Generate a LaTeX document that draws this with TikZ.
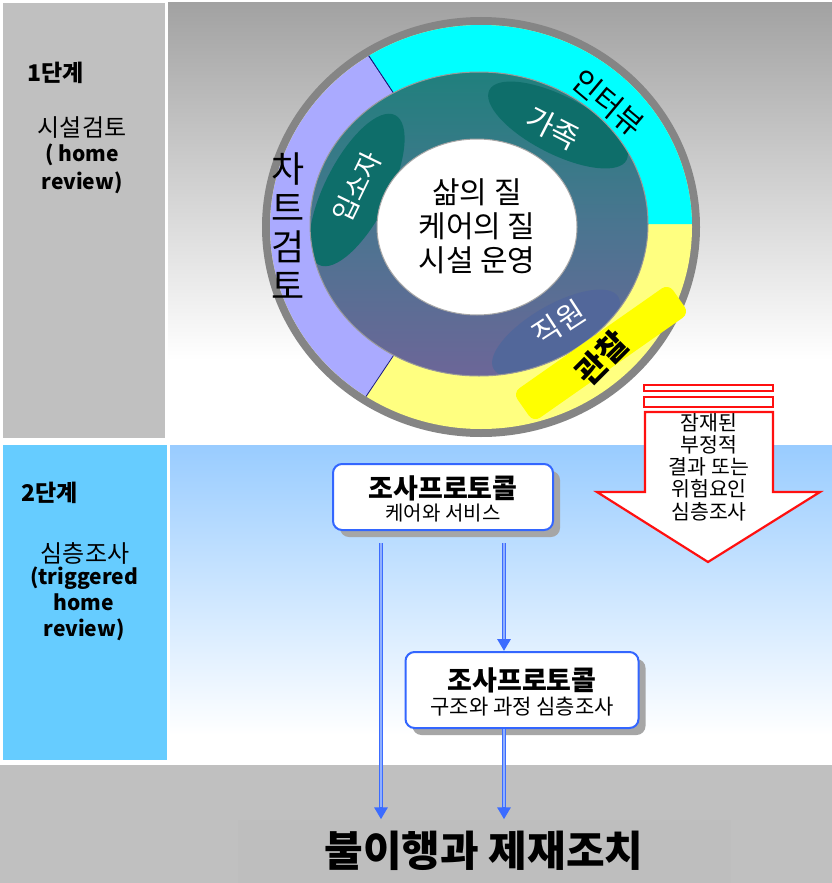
\documentclass[tikz,border=0pt]{standalone}
\usepackage{fontspec}
\setmainfont{Noto Sans CJK KR}
\usetikzlibrary{shadows,arrows.meta,calc}
\definecolor{panelgray}{HTML}{C0C0C0}
\definecolor{topgray}{HTML}{A2A2A2}
\definecolor{panelblue}{HTML}{66CCFF}
\definecolor{topblue}{HTML}{99CCFF}
\definecolor{ringgray}{HTML}{858585}
\definecolor{lavender}{HTML}{AAAAFF}
\definecolor{ringcyan}{HTML}{00FFFF}
\definecolor{ringyellow}{HTML}{FFFF80}
\definecolor{brightyellow}{HTML}{FFFF00}
\definecolor{ringtop}{HTML}{20807D}
\definecolor{ringmid}{HTML}{4A7590}
\definecolor{ringbot}{HTML}{6C6698}
\definecolor{blobteal}{HTML}{0E6E6A}
\definecolor{blobslate}{HTML}{52679A}
\definecolor{navyline}{HTML}{1A1A80}
\definecolor{boxblue}{HTML}{3366FF}
\definecolor{lineblue}{HTML}{3C6CFF}
\definecolor{linecore}{HTML}{90B0FF}
\definecolor{finalgray}{HTML}{BEBEBE}
\definecolor{warnred}{HTML}{FF1010}
\tikzset{
  protobox/.style={draw=boxblue, line width=2pt, fill=white, rounded corners=9pt,
    inner sep=0pt,
    drop shadow={shadow xshift=7pt, shadow yshift=-7pt, fill=black!35, opacity=1}},
  flowline/.style={draw=lineblue, line width=4.5pt, -{Triangle[length=12pt,width=13pt]}},
  flowcore/.style={draw=linecore, line width=1.3pt, shorten >=12pt},
  ringtext/.style={inner sep=0pt},
  redline/.style={draw=warnred, line width=2.2pt, line join=miter},
}
\begin{document}
\begin{tikzpicture}[x=1pt,y=-1pt]
\useasboundingbox (0,0) rectangle (832,883);
\fill[white] (0,0) rectangle (832,883);
% ---- backgrounds
\fill[panelgray] (3,3) rectangle (165,438);
\shade[top color=topgray, bottom color=white] (168,3) rectangle (832,360);
\fill[panelblue] (3,445) rectangle (167,760);
\shade[top color=topblue, bottom color=white] (170,445) rectangle (832,735);
\fill[panelgray] (0,765) rectangle (832,883);
% ---- left labels
\node[anchor=west, font=\bfseries\fontsize{23}{26}\selectfont] (step1) at (24,73) {1단계};
\node[font=\fontsize{24}{28}\selectfont] (step1a) at (82,128) {시설검토};
\node[align=center, font=\bfseries\fontsize{21}{27.5}\selectfont] (step1b) at (82,169) {( home\\review)};
\node[anchor=west, font=\bfseries\fontsize{23}{26}\selectfont] (step2) at (18,493) {2단계};
\node[font=\fontsize{24}{28}\selectfont] (step2a) at (85,553) {심층조사};
\node[align=center, font=\bfseries\fontsize{21}{25.7}\selectfont] (step2b) at (84,604) {(triggered\\home\\review)};
% ---- ring
\fill[ringgray] (481,227) ellipse [x radius=219, y radius=210];
\begin{scope}
  \clip (481,227) ellipse [x radius=211, y radius=202];
  \fill[ringyellow] (250,0) rectangle (720,460);
  \filldraw[fill=lavender, draw=navyline, line width=0.8pt] (481,225) -- (245,-131) -- (-100,-131) -- (-100,577) -- (245,577) -- cycle;
  \fill[ringcyan] (481,224) -- (245,-131) -- (900,-131) -- (900,224) -- cycle;
  \draw[navyline, line width=0.8pt] (481,225) -- (245,-131);
\end{scope}
\shade[top color=ringtop, bottom color=ringbot, middle color=ringmid] (479,224) ellipse [x radius=169, y radius=152];
\begin{scope}
  \clip (479,224) ellipse [x radius=169, y radius=152];
  \fill[blobteal, rotate around={63:(357,190)}] (357,190) ellipse [x radius=84, y radius=32];
  \fill[blobteal, rotate around={-27:(558,125)}] (558,125) ellipse [x radius=77, y radius=29];
  \fill[blobslate, rotate around={30:(556,333)}] (556,333) ellipse [x radius=72, y radius=28];
\end{scope}
\draw[black!40, line width=1pt] (479,224) ellipse [x radius=169, y radius=152];
\filldraw[fill=white, draw=black!35, line width=1pt] (477,227) ellipse [x radius=100, y radius=88];
\fill[brightyellow, rounded corners=8pt, rotate around={35:(601,353)}] (506,335) rectangle (696,371);
% ---- ring texts
\node[align=center, font=\fontsize{30}{34}\selectfont] (core) at (477,226) {삶의 질\\케어의 질\\시설 운영};
\node[align=center, ringtext, font=\fontsize{36}{39}\selectfont] (chart) at (288,226) {차\\트\\검\\토};
\node[ringtext, rotate=-40, font=\fontsize{30}{32}\selectfont] (intv) at (608,103) {인터뷰};
\node[ringtext, rotate=-27, text=white, font=\fontsize{30}{32}\selectfont] (family) at (553,128) {가족};
\node[ringtext, rotate=64, text=white, font=\fontsize{27}{30}\selectfont] (resident) at (357,187) {입소자};
\node[ringtext, rotate=33, text=white, font=\fontsize{30}{32}\selectfont] (staff) at (559,323) {직원};
\node[ringtext, rotate=45, font=\bfseries\fontsize{32}{34}\selectfont] (observe) at (602,358) {관찰};
% ---- red arrow
\filldraw[redline, fill=white] (644,385) rectangle (773,391);
\filldraw[redline, fill=white] (644,397) rectangle (773,407);
\filldraw[redline, fill=white] (645,412) -- (773,412) -- (773,492) -- (820,492) -- (708,562) -- (597,492) -- (645,492) -- cycle;
\node[align=center, font=\fontsize{20.5}{22.3}\selectfont] (warn) at (709,467) {잠재된\\부정적\\결과 또는\\위험요인\\심층조사};
% ---- protocol boxes
\node[protobox, minimum width=220pt, minimum height=66pt] (box1) at (443,497) {};
\node[font=\bfseries\fontsize{27}{30}\selectfont] (box1t) at ($(box1.center)+(0,-9)$) {조사프로토콜};
\node[font=\fontsize{20}{24}\selectfont] (box1s) at ($(box1.center)+(0,16)$) {케어와 서비스};
\node[protobox, minimum width=233pt, minimum height=76pt] (box2) at (522,690) {};
\node[font=\bfseries\fontsize{27}{30}\selectfont] (box2t) at ($(box2.center)+(0,-10)$) {조사프로토콜};
\node[font=\fontsize{21}{24}\selectfont] (box2s) at ($(box2.center)+(0,17)$) {구조와 과정 심층조사};
% ---- final
\node[fill=finalgray, minimum width=493pt, minimum height=63pt, font=\bfseries\fontsize{42}{46}\selectfont] (final) at (484,851) {불이행과 제재조치};
% ---- connectors
\coordinate (l1) at ($(box1.south)+(-62,12)$);
\coordinate (l2) at ($(box1.south)+(61,12)$);
\coordinate (l3) at ($(box2.south)+(-18,0)$);
\draw[flowline] (l1) -- (l1 |- final.north);
\draw[flowcore] (l1) -- (l1 |- final.north);
\draw[flowline] (l2) -- (l2 |- box2.north);
\draw[flowcore] (l2) -- (l2 |- box2.north);
\draw[flowline] (l3) -- (l3 |- final.north);
\draw[flowcore] (l3) -- (l3 |- final.north);
\end{tikzpicture}
\end{document}
